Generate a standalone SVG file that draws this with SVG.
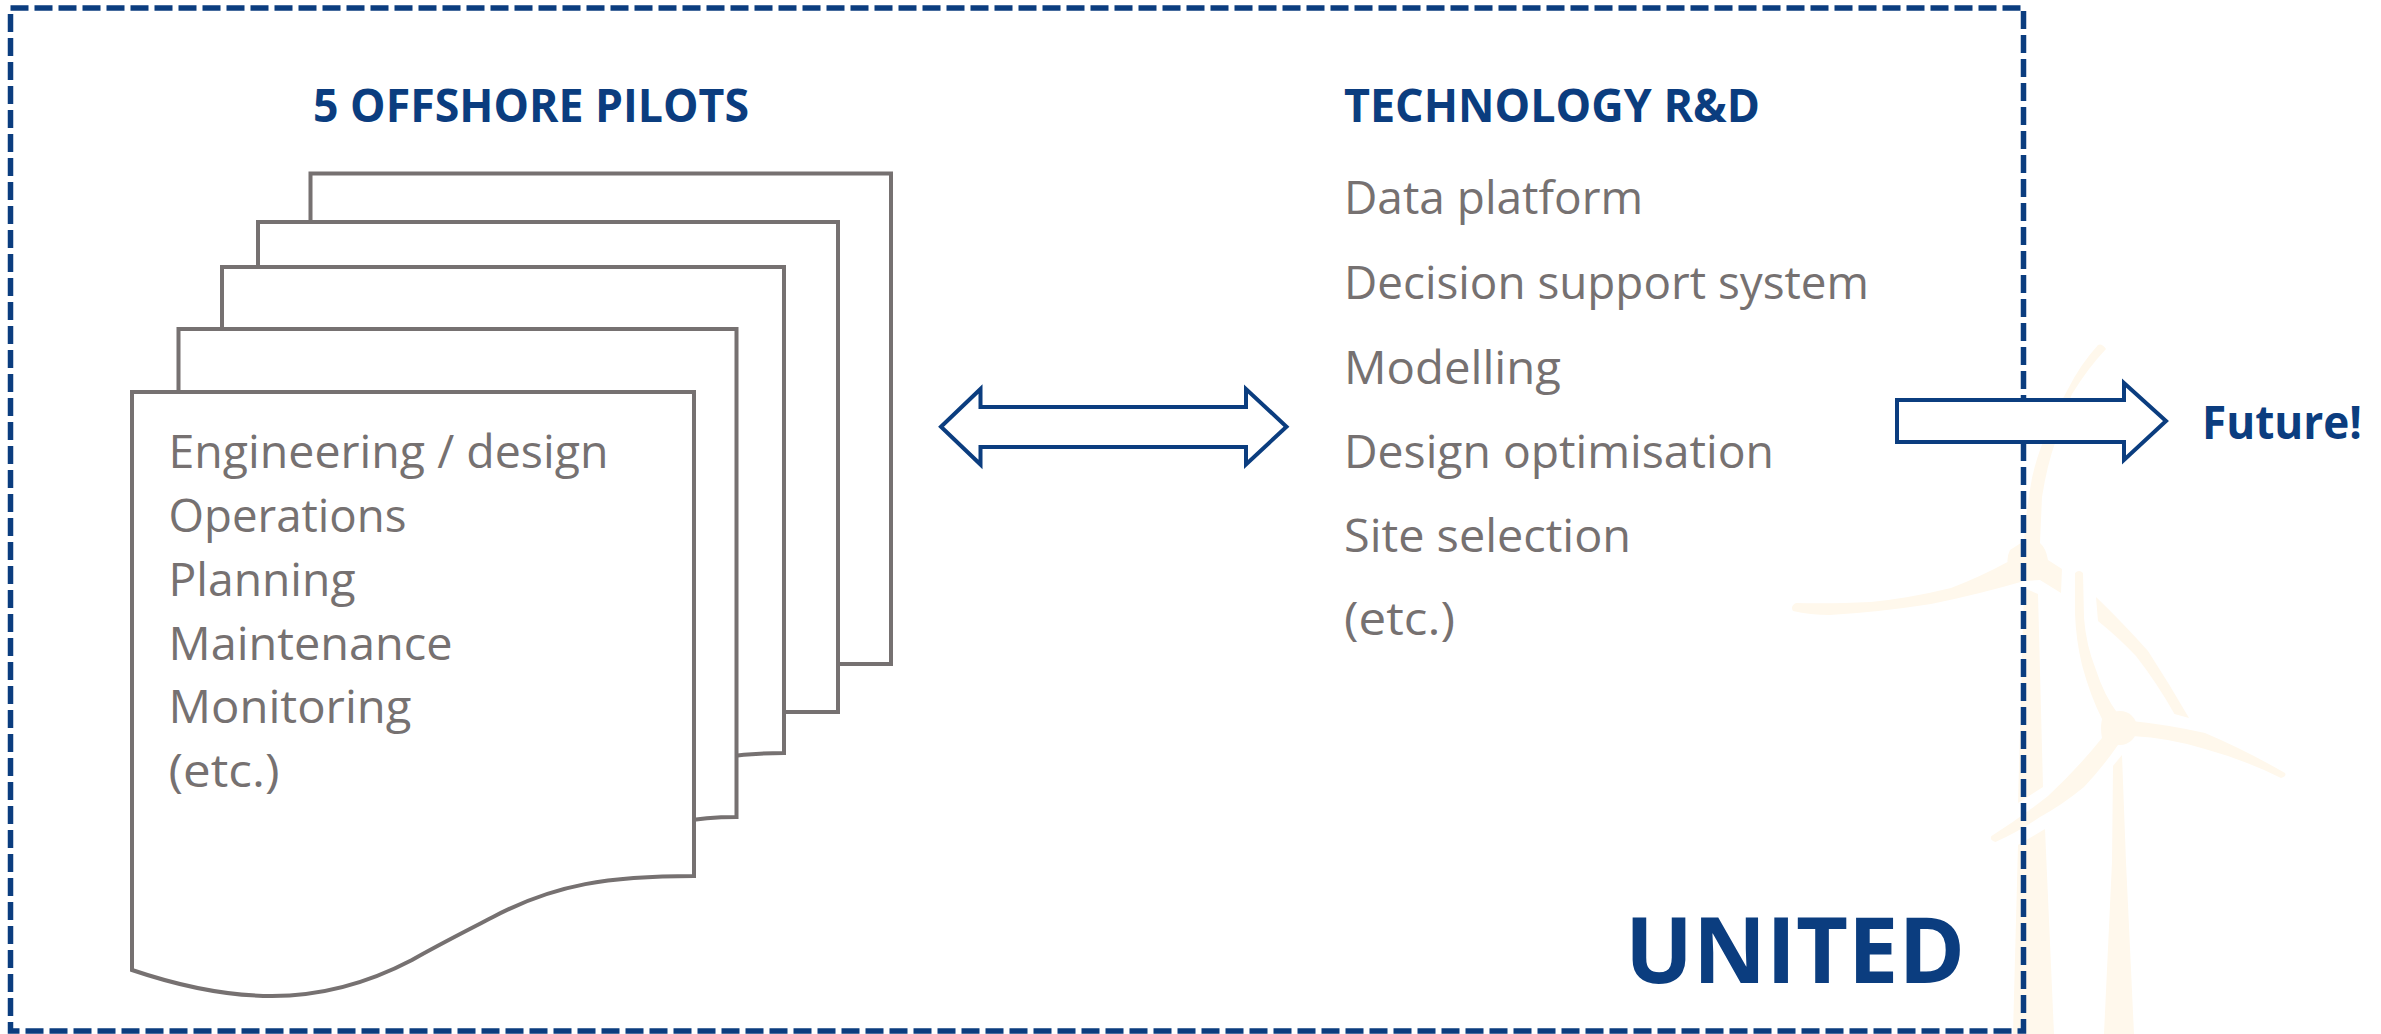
<svg xmlns="http://www.w3.org/2000/svg" width="2381" height="1034" viewBox="0 0 2381 1034">
<style>
text{font-family:"Open Sans","Noto Sans","Liberation Sans",sans-serif}
.body{font-size:46px;fill:#767171}
.head{font-size:46px;font-weight:700;fill:#0b3d7f}
.doc{fill:#fff;stroke:#767171;stroke-width:4;stroke-linejoin:miter}
.arrow{fill:#fff;stroke:#0b3d7f;stroke-width:4;stroke-miterlimit:10}
.wind{fill:#fff8ec;stroke:none}
</style>
<rect width="2381" height="1034" fill="#fff"/>
<g id="turbines">
<path class="wind" d="M2106,349Q2102,343 2098,345Q2080,365 2068,389Q2040,440 2032,478Q2026,510 2024,541L2010,550Q2007,556 2007.5,562Q1980,577 1951,588Q1910,598 1871,602Q1830,604 1796,603Q1790,606 1793,611Q1810,615 1830,615Q1880,612 1931,604Q1980,594 2024,581L2040,580L2061,593L2062,569L2048,560Q2046,548 2040,543Q2041,520 2042,497Q2047,465 2056,440Q2063,415 2072,394Q2088,368 2106,349Z"/>
<path class="wind" d="M2024,588L2038,594L2043,787L2018,803Z"/>
<path class="wind" d="M2018,845L2045,829L2054,1034H2013Z"/>
<path class="wind" d="M2102,738Q2078,768 2048,796Q2020,818 1991.5,836Q1989,840 1995.5,842Q2018,832 2040,817Q2062,805 2084,787Q2102,768 2118,745L2132,736Q2170,738 2205,749Q2245,760 2281,778Q2287,776 2285,773Q2245,750 2205,733Q2170,725 2132,721Q2126,713 2118,714Q2104,695 2096,670Q2086,645 2084,618L2083,573Q2079,569 2075,573L2075,614Q2076,640 2082,665Q2090,695 2102,719Q2100,728 2102,738Z"/>
<circle class="wind" cx="2120" cy="728" r="17"/>
<path class="wind" d="M2096,597L2098,621Q2118,637 2136,656Q2157,683 2174.5,714L2189,718Q2170,685 2148,651Q2122,622 2096,597Z"/>
<path class="wind" d="M2122,755L2126,862L2134,1034H2104L2112,862L2113,766Z"/>
</g>
<g id="frame">
<rect x="10.5" y="8" width="2013" height="1023" fill="none" stroke="#0b3d7f" stroke-width="5.5" stroke-dasharray="18 6"/>
</g>
<g id="pilot-5"><path class="doc" d="M310.5,173.5H891V664H800V700H310.5Z"/></g>
<g id="pilot-4"><path class="doc" d="M258,222H838V712H745V740H258Z"/></g>
<g id="pilot-3"><path class="doc" d="M222,267H784V753C765,753 745,754 725,757V800H222Z"/></g>
<g id="pilot-2"><path class="doc" d="M178.5,329H736.5V817C720,817 700,818 682,822V860H178.5Z"/></g>
<g id="pilot-1"><path class="doc" d="M132,392H694V876C610,876 555,884 493,917C470,929 440,944 412,960C370,982 325,996 272,996C228,996 185,988 132,970Z"/>
<text class="body" x="168.5" y="468" textLength="440" lengthAdjust="spacingAndGlyphs">Engineering / design</text>
<text class="body" x="168.5" y="532" textLength="238" lengthAdjust="spacingAndGlyphs">Operations</text>
<text class="body" x="168.5" y="596" textLength="187" lengthAdjust="spacingAndGlyphs">Planning</text>
<text class="body" x="168.5" y="660" textLength="284" lengthAdjust="spacingAndGlyphs">Maintenance</text>
<text class="body" x="168.5" y="723" textLength="243" lengthAdjust="spacingAndGlyphs">Monitoring</text>
<text class="body" x="168.5" y="787" textLength="111" lengthAdjust="spacingAndGlyphs">(etc.)</text>
</g>
<g id="pilots-title"><text class="head" x="313" y="122" textLength="436" lengthAdjust="spacingAndGlyphs">5 OFFSHORE PILOTS</text></g>
<g id="tech">
<text class="head" x="1344" y="122" textLength="416" lengthAdjust="spacingAndGlyphs">TECHNOLOGY R&amp;D</text>
<text class="body" x="1344" y="214" textLength="299" lengthAdjust="spacingAndGlyphs">Data platform</text>
<text class="body" x="1344" y="299" textLength="525" lengthAdjust="spacingAndGlyphs">Decision support system</text>
<text class="body" x="1344" y="384" textLength="217" lengthAdjust="spacingAndGlyphs">Modelling</text>
<text class="body" x="1344" y="468" textLength="430" lengthAdjust="spacingAndGlyphs">Design optimisation</text>
<text class="body" x="1344" y="552" textLength="287" lengthAdjust="spacingAndGlyphs">Site selection</text>
<text class="body" x="1344" y="635" textLength="111" lengthAdjust="spacingAndGlyphs">(etc.)</text>
</g>
<g id="connectors">
<path class="arrow" d="M941,426.7L980.5,389V407H1246V389L1286.5,426.7L1246,464.5V447H980.5V464.5Z"/>
<path class="arrow" d="M1897,400H2124V383L2166,421L2124,460V442H1897Z"/>
</g>
<g id="future"><text class="head" x="2202" y="439" textLength="160" lengthAdjust="spacingAndGlyphs">Future!</text></g>
<g id="brand"><text class="head" x="1625" y="983" textLength="340" lengthAdjust="spacingAndGlyphs" style="font-size:92px">UNITED</text></g>
</svg>
